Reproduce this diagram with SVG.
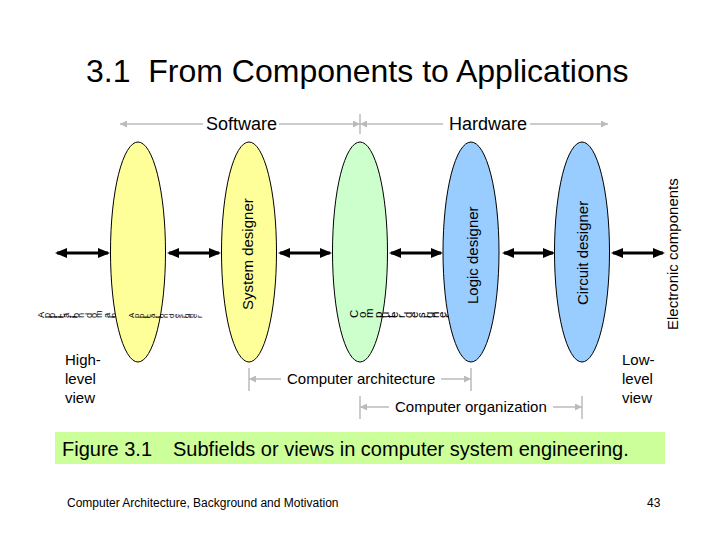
<svg xmlns="http://www.w3.org/2000/svg" width="720" height="540" viewBox="0 0 720 540">
<style>
text{font-family:"Liberation Sans",Arial,sans-serif;fill:#000}
.t{font-size:32px}
.h{font-size:18px}
.lab{font-size:15px}
.cap{font-size:20px}
.ft{font-size:12px}
.g{stroke:#BBBBBB;stroke-width:1.5;fill:none}
.blk{stroke:#000;stroke-width:3.2;fill:none}
.ell{stroke:#000;stroke-width:1}
.y{fill:#FFFF99}
.gr{fill:#CCFFCC}
.b{fill:#99CCFF}
.gb1{font-size:9.3px}
.gb3{font-size:7.8px}
.gb2{font-size:11.5px}
</style>
<defs>
<marker id="ah" viewBox="0 0 12 10" refX="10" refY="5" markerWidth="12" markerHeight="10" markerUnits="userSpaceOnUse" orient="auto-start-reverse"><path d="M0,0 L12,5 L0,10 z" fill="#000"/></marker>
<marker id="gh" viewBox="0 0 8 8" refX="8" refY="4" markerWidth="8" markerHeight="7" markerUnits="userSpaceOnUse" orient="auto-start-reverse"><path d="M0,0 L8,4 L0,8 z" fill="#BBBBBB"/></marker>
</defs>
<rect width="720" height="540" fill="#fff"/>
<text class="t" x="86" y="82" xml:space="preserve">3.1  From Components to Applications</text>

<g id="software-hardware">
<text class="h" x="206" y="130">Software</text>
<text class="h" x="449" y="130">Hardware</text>
</g>

<g id="app-domains"><text class="gb1" x="44" y="318" rotate="-90">Application domains</text></g>
<g id="app-designer">
<ellipse class="ell y" cx="138" cy="252" rx="27.5" ry="110"/>
<text class="gb3" x="134" y="318" rotate="-90">Application designer</text>
</g>
<g id="system-designer">
<ellipse class="ell y" cx="249" cy="252" rx="27.5" ry="110"/>
<text class="lab" transform="translate(253,310) rotate(-90)">System designer</text>
</g>
<g id="computer-designer">
<ellipse class="ell gr" cx="360" cy="252" rx="27.5" ry="110"/>
<text class="gb2" x="358" y="318" rotate="-90">Computer designer</text>
</g>
<g id="logic-designer">
<ellipse class="ell b" cx="471" cy="252" rx="28" ry="110"/>
<text class="lab" transform="translate(478,304) rotate(-90)">Logic designer</text>
</g>
<g id="circuit-designer">
<ellipse class="ell b" cx="582" cy="252" rx="27.5" ry="110"/>
<text class="lab" transform="translate(588,305) rotate(-90)">Circuit designer</text>
</g>
<g id="electronic-components">
<text class="lab" transform="translate(678,330) rotate(-90)">Electronic components</text>
</g>

<g id="connectors">
<line class="g" x1="120" y1="124" x2="203" y2="124" marker-start="url(#gh)"/>
<line class="g" x1="279" y1="124" x2="360" y2="124" marker-end="url(#gh)"/>
<line class="g" x1="360" y1="124" x2="443" y2="124" marker-start="url(#gh)"/>
<line class="g" x1="530" y1="124" x2="608" y2="124" marker-end="url(#gh)"/>
<line class="g" x1="360" y1="114" x2="360" y2="134"/>

<line class="blk" x1="57" y1="253" x2="108" y2="253" marker-start="url(#ah)" marker-end="url(#ah)"/>
<line class="blk" x1="169" y1="253" x2="219" y2="253" marker-start="url(#ah)" marker-end="url(#ah)"/>
<line class="blk" x1="280" y1="253" x2="330" y2="253" marker-start="url(#ah)" marker-end="url(#ah)"/>
<line class="blk" x1="391" y1="253" x2="441" y2="253" marker-start="url(#ah)" marker-end="url(#ah)"/>
<line class="blk" x1="504" y1="253" x2="553" y2="253" marker-start="url(#ah)" marker-end="url(#ah)"/>
<line class="blk" x1="613" y1="253" x2="663" y2="253" marker-start="url(#ah)" marker-end="url(#ah)"/>

<line class="g" x1="249" y1="368" x2="249" y2="391"/>
<line class="g" x1="249" y1="379" x2="281" y2="379" marker-start="url(#gh)"/>
<line class="g" x1="441" y1="379" x2="471" y2="379" marker-end="url(#gh)"/>
<line class="g" x1="471" y1="368" x2="471" y2="391"/>

<line class="g" x1="360" y1="396" x2="360" y2="419"/>
<line class="g" x1="360" y1="407" x2="389" y2="407" marker-start="url(#gh)"/>
<line class="g" x1="553" y1="407" x2="582" y2="407" marker-end="url(#gh)"/>
<line class="g" x1="582" y1="396" x2="582" y2="419"/>
</g>

<g id="views">
<text class="lab" x="65" y="365">High-</text>
<text class="lab" x="65" y="384">level</text>
<text class="lab" x="65" y="403">view</text>
<text class="lab" x="622" y="365">Low-</text>
<text class="lab" x="622" y="384">level</text>
<text class="lab" x="622" y="403">view</text>
<text class="lab" x="287" y="384">Computer architecture</text>
<text class="lab" x="395" y="412">Computer organization</text>
</g>

<g id="caption">
<rect x="55" y="432" width="610" height="32" fill="#CCFF99"/>
<text class="cap" x="62" y="456">Figure 3.1</text>
<text class="cap" x="173" y="456">Subfields or views in computer system engineering.</text>
</g>
<text class="ft" x="67" y="507">Computer Architecture, Background and Motivation</text>
<text class="ft" x="647" y="507">43</text>
</svg>
